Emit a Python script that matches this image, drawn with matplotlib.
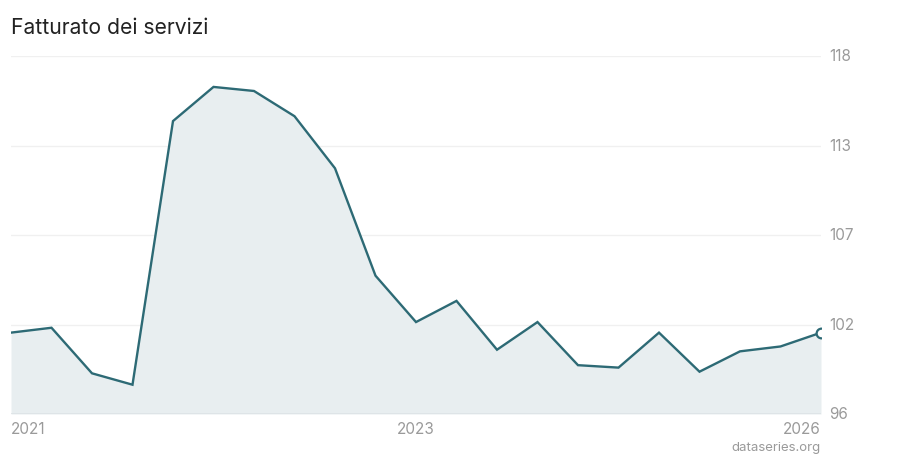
import matplotlib.pyplot as plt
import numpy as np

# valori (trimestrali, indice)
valori = [101.0, 101.3, 98.5, 97.8, 114.0, 116.1, 115.85, 114.3, 111.1, 104.5,
          101.65, 102.95, 99.95, 101.65, 99.0, 98.85, 101.0, 98.6, 99.85, 100.15, 101.0]
etichette_x = ["2021", "2023", "2026"]
posizioni_etichette = [0, 10, 20]
tick_y = [96, 101.5, 107, 112.5, 118]
etichette_y = ["96", "102", "107", "113", "118"]

plt.rcParams['font.family'] = ['Inter', 'DejaVu Sans']

col_linea = "#2d6a75"
col_area = "#e8eef0"
col_testo = "#9a9a9a"

fig = plt.figure(figsize=(9, 4.6), dpi=100)
ax = fig.add_axes([11/900, 1 - 415/460, 810/900, 358/460])

x = np.arange(len(valori))
ax.fill_between(x, valori, 96, color=col_area, lw=0)
ax.plot(x, valori, color=col_linea, lw=1.7, solid_joinstyle="miter")
ax.plot(x[-1], valori[-1], "o", ms=7, mfc="white", mec=col_linea, mew=1.6)

ax.set_xlim(0, len(valori) - 1)
ax.set_ylim(96, 118)

# griglia
for v in tick_y[1:]:
    ax.axhline(v, color="#f0f0f0", lw=1, zorder=0)
ax.axhline(96, color="#dde3e6", lw=1.2, zorder=3)

ax.set_xticks([])
ax.set_yticks([])
for s in ax.spines.values():
    s.set_visible(False)

# etichette asse y a destra
for v, t in zip(tick_y, etichette_y):
    ax.annotate(t, (1.0, v), xycoords=ax.get_yaxis_transform(), xytext=(6, 0),
                textcoords="offset points", ha="left", va="center",
                fontsize=11, color=col_testo)

# etichette asse x
allineamento = ["left", "center", "right"]
for p, t, a in zip(posizioni_etichette, etichette_x, allineamento):
    ax.annotate(t, (p, 0), xycoords=ax.get_xaxis_transform(), xytext=(0, -10.5),
                textcoords="offset points", ha=a, va="center",
                fontsize=11, color=col_testo)

fig.text(11/900, 1 - 28/460, "Fatturato dei servizi", ha="left", va="center",
         fontsize=15.2, color="#222222")
fig.text(821/900, 1 - 448/460, "dataseries.org", ha="right", va="center",
         fontsize=9.5, color=col_testo)

fig.savefig("out.png", dpi=100)
